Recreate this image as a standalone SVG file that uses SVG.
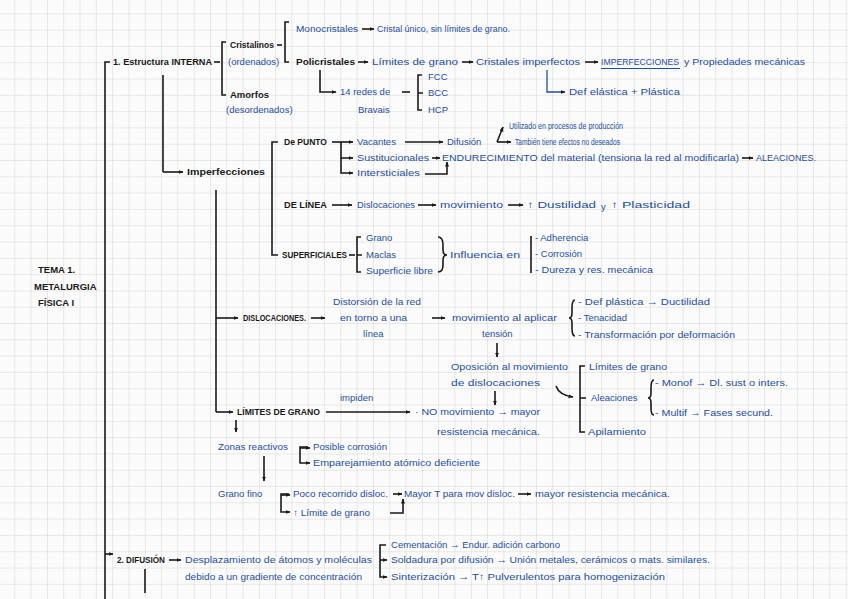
<svg xmlns="http://www.w3.org/2000/svg" width="848" height="599" viewBox="0 0 848 599">
<defs>
<pattern id="grid" width="16.3" height="16.3" patternUnits="userSpaceOnUse" x="-1" y="-2">
<path d="M16.3,0 V16.3 M0,16.3 H16.3" fill="none" stroke="#d4d4d4" stroke-width="1"/>
</pattern>
<marker id="ah" viewBox="0 0 10 10" refX="9" refY="5" markerWidth="5" markerHeight="5" orient="auto-start-reverse" markerUnits="userSpaceOnUse">
<path d="M0,1 L10,5 L0,9 z" fill="#1a1a1a"/>
</marker>
</defs>
<style>
text{font-family:"Liberation Sans","DejaVu Sans",sans-serif;font-size:9.5px}
.k{fill:#1a1a1a;font-weight:bold}
.b{fill:#1f4f9f}
.s{font-size:8.5px}
.ck{fill:none;stroke:#1a1a1a;stroke-width:1.6}
.cb{fill:none;stroke:#1f4f9f;stroke-width:1.3}
.a{marker-end:url(#ah)}
</style>
<rect width="848" height="599" fill="#fbfbfb"/>
<rect width="848" height="599" fill="url(#grid)"/>

<g id="connectors">
<path class="ck" d="M110,62 H105 V599"/>
<path class="ck" d="M214,62 H220"/>
<path class="ck" d="M226,42 H222 V95 H226"/>
<path class="ck" d="M277,45 H282"/>
<path class="ck" d="M289,22 H285 V62 H289"/>
<path class="ck a" d="M362,29 H374"/>
<path class="ck a" d="M358,62 H368"/>
<path class="ck a" d="M462,62 H473"/>
<path class="ck a" d="M585,62 H598"/>
<path class="ck a" d="M320,70 V92 H336"/>
<path class="ck" d="M402,92 H410"/>
<path class="ck" d="M422,75 H418 V110 H422 M418,93 H423"/>
<path class="cb a" d="M547,70 V92 H565"/>
<path class="ck" d="M163,75 V172"/>
<path class="ck a" d="M163,172 H183"/>
<path class="ck" d="M216,190 V412"/>
<path class="ck a" d="M216,318 H238"/>
<path class="ck a" d="M216,412 H233"/>
<path class="ck" d="M278,142 H272 V255 H278"/>
<path class="ck a" d="M332,142 H353"/>
<path class="ck a" d="M341,142 V158 H353"/>
<path class="ck a" d="M341,158 V173 H353"/>
<path class="ck a" d="M405,142 H443"/>
<path class="ck a" d="M497,142 L503,127"/>
<path class="ck a" d="M497,142 H511"/>
<path class="ck a" d="M432,158 H440"/>
<path class="ck a" d="M742,158 H753"/>
<path class="ck a" d="M425,174 H447 V162"/>
<path class="ck a" d="M332,205 H352"/>
<path class="ck a" d="M418,205 H436"/>
<path class="ck a" d="M508,205 H523"/>
<path class="ck" d="M349,255 H355"/>
<path class="ck" d="M361,237 H357 V272 H361 M357,255 H362"/>
<path class="ck" d="M438,237 Q443,237 443,245 V250 Q443,255 447,255 Q443,255 443,260 V265 Q443,272 438,272"/>
<path class="ck" d="M531,236 V273"/>
<path class="ck a" d="M311,318 H325"/>
<path class="ck a" d="M432,318 H445"/>
<path class="ck" d="M575,300 Q572,300 572,308 V313 Q572,318 569,318 Q572,318 572,323 V328 Q572,336 575,336"/>
<path class="ck a" d="M497,343 V357"/>
<path class="ck a" d="M495,391 V405"/>
<path class="ck a" d="M556,386 Q559,395 573,397"/>
<path class="ck" d="M585,366 H580 V432 H585 M580,398 H586"/>
<path class="ck" d="M654,380 Q651,380 651,388 V393 Q651,398 648,398 Q651,398 651,403 V408 Q651,415 654,415"/>
<path class="ck a" d="M326,412 H410"/>
<path class="ck a" d="M236,420 V432"/>
<path class="ck a" d="M308,447 H300 V463 H310"/>
<path class="ck a" d="M300,448 H310"/>
<path class="ck a" d="M264,456 V481"/>
<path class="ck a" d="M289,494 H281 V512 H290"/>
<path class="ck a" d="M281,495 H290"/>
<path class="ck a" d="M393,494 H402"/>
<path class="ck a" d="M518,494 H531"/>
<path class="ck a" d="M390,513 H403 V499"/>
<path class="ck a" d="M105,554 H113"/>
<path class="ck a" d="M169,560 H181"/>
<path class="ck" d="M145,569 V593"/>
<path class="ck a" d="M386,545 H380 V577 H387"/>
<path class="ck a" d="M380,560 H387"/>
</g>

<g id="tema"><text class="k" x="38" y="273">TEMA 1.</text><text class="k" x="34" y="290">METALURGIA</text><text class="k" x="38" y="306">FÍSICA I</text></g>
<g id="estructura"><text class="k" x="113" y="65" textLength="99" lengthAdjust="spacingAndGlyphs">1. Estructura INTERNA</text></g>
<g id="cristalinos"><text class="k" x="230" y="48" textLength="44" lengthAdjust="spacingAndGlyphs">Cristalinos</text><text class="b" x="228" y="65">(ordenados)</text></g>
<g id="amorfos"><text class="k" x="230" y="98">Amorfos</text><text class="b" x="226" y="113">(desordenados)</text></g>
<g id="monocristales"><text class="b s" x="296" y="32" textLength="62" lengthAdjust="spacingAndGlyphs">Monocristales</text><text class="b s" x="377" y="32" textLength="133" lengthAdjust="spacingAndGlyphs">Cristal único, sin límites de grano.</text></g>
<g id="policristales"><text class="k" x="296" y="65" textLength="59" lengthAdjust="spacingAndGlyphs">Policristales</text>
<text class="b" x="372" y="65" textLength="86" lengthAdjust="spacingAndGlyphs">Límites de grano</text>
<text class="b" x="476" y="65" textLength="104" lengthAdjust="spacingAndGlyphs">Cristales imperfectos</text>
<text class="b" x="601" y="65" textLength="78" lengthAdjust="spacingAndGlyphs">IMPERFECCIONES</text>
<path d="M601,68.5 H680" stroke="#1f4f9f" stroke-width="1"/>
<text class="b" x="684" y="65" textLength="121" lengthAdjust="spacingAndGlyphs">y Propiedades mecánicas</text></g>
<g id="redes"><text class="b" x="340" y="95">14 redes de</text><text class="b" x="358" y="113">Bravais</text></g>
<g id="fcc"><text class="b" x="428" y="80">FCC</text><text class="b" x="428" y="96">BCC</text><text class="b" x="428" y="113">HCP</text></g>
<g id="def-elastica"><text class="b" x="569" y="95" textLength="111" lengthAdjust="spacingAndGlyphs">Def elástica + Plástica</text></g>
<g id="imperfecciones"><text class="k" x="187" y="175" textLength="78" lengthAdjust="spacingAndGlyphs">Imperfecciones</text></g>
<g id="de-punto"><text class="k" x="284" y="145" textLength="43" lengthAdjust="spacingAndGlyphs">De PUNTO</text></g>
<g id="vacantes"><text class="b" x="357" y="145">Vacantes</text></g>
<g id="difusion1"><text class="b" x="447" y="145">Difusión</text></g>
<g id="utilizado"><text class="b s" x="509" y="129" textLength="114" lengthAdjust="spacingAndGlyphs">Utilizado en procesos de producción</text><text class="b s" x="515" y="145" textLength="105" lengthAdjust="spacingAndGlyphs">También tiene efectos no deseados</text></g>
<g id="sustitucionales"><text class="b" x="357" y="161" textLength="72" lengthAdjust="spacingAndGlyphs">Sustitucionales</text></g>
<g id="endurecimiento"><text class="b" x="442" y="161" textLength="297" lengthAdjust="spacingAndGlyphs">ENDURECIMIENTO del material (tensiona la red al modificarla)</text><text class="b" x="756" y="161" textLength="60" lengthAdjust="spacingAndGlyphs">ALEACIONES.</text></g>
<g id="intersticiales"><text class="b" x="357" y="176" textLength="63" lengthAdjust="spacingAndGlyphs">Intersticiales</text></g>
<g id="de-linea"><text class="k" x="284" y="208" textLength="43" lengthAdjust="spacingAndGlyphs">DE LÍNEA</text><text class="b" x="357" y="208" textLength="58" lengthAdjust="spacingAndGlyphs">Dislocaciones</text><text class="b" x="440" y="208" textLength="63" lengthAdjust="spacingAndGlyphs">movimiento</text><text class="b" x="527" y="208" textLength="69" lengthAdjust="spacingAndGlyphs">↑ Dustilidad</text><text class="b" x="601" y="210">y</text><text class="b" x="611" y="208" textLength="79" lengthAdjust="spacingAndGlyphs">↑ Plasticidad</text></g>
<g id="superficiales"><text class="k" x="282" y="258" textLength="65" lengthAdjust="spacingAndGlyphs">SUPERFICIALES</text></g>
<g id="grano-maclas"><text class="b" x="366" y="241">Grano</text><text class="b" x="366" y="258">Maclas</text><text class="b" x="366" y="274" textLength="67" lengthAdjust="spacingAndGlyphs">Superficie libre</text></g>
<g id="influencia"><text class="b" x="450" y="258" textLength="70" lengthAdjust="spacingAndGlyphs">Influencia en</text></g>
<g id="adherencia"><text class="b" x="535" y="241">- Adherencia</text><text class="b" x="535" y="257">- Corrosión</text><text class="b" x="535" y="273" textLength="118" lengthAdjust="spacingAndGlyphs">- Dureza y res. mecánica</text></g>
<g id="dislocaciones"><text class="k" x="243" y="321" textLength="63" lengthAdjust="spacingAndGlyphs">DISLOCACIONES.</text></g>
<g id="distorsion"><text class="b" x="333" y="305" textLength="88" lengthAdjust="spacingAndGlyphs">Distorsión de la red</text><text class="b" x="340" y="321" textLength="67" lengthAdjust="spacingAndGlyphs">en torno a una</text><text class="b" x="363" y="337">línea</text></g>
<g id="mov-tension"><text class="b" x="452" y="321" textLength="105" lengthAdjust="spacingAndGlyphs">movimiento al aplicar</text><text class="b" x="482" y="337">tensión</text></g>
<g id="def-plastica"><text class="b" x="578" y="305" textLength="132" lengthAdjust="spacingAndGlyphs">- Def plástica → Ductilidad</text><text class="b" x="578" y="321">- Tenacidad</text><text class="b" x="578" y="338" textLength="157" lengthAdjust="spacingAndGlyphs">- Transformación por deformación</text></g>
<g id="oposicion"><text class="b" x="451" y="370" textLength="117" lengthAdjust="spacingAndGlyphs">Oposición al movimiento</text><text class="b" x="451" y="386" textLength="89" lengthAdjust="spacingAndGlyphs">de dislocaciones</text></g>
<g id="limites-aleaciones"><text class="b" x="589" y="370" textLength="78" lengthAdjust="spacingAndGlyphs">Límites de grano</text><text class="b" x="591" y="401">Aleaciones</text><text class="b" x="588" y="435" textLength="58" lengthAdjust="spacingAndGlyphs">Apilamiento</text></g>
<g id="monof"><text class="b" x="655" y="386" textLength="133" lengthAdjust="spacingAndGlyphs">- Monof → Dl. sust o inters.</text><text class="b" x="655" y="416" textLength="118" lengthAdjust="spacingAndGlyphs">- Multif → Fases secund.</text></g>
<g id="limites-grano"><text class="k" x="237" y="415" textLength="83" lengthAdjust="spacingAndGlyphs">LÍMITES DE GRANO</text><text class="b" x="340" y="401">impiden</text></g>
<g id="no-movimiento"><text class="b" x="415" y="415" textLength="125" lengthAdjust="spacingAndGlyphs">· NO movimiento → mayor</text><text class="b" x="437" y="435" textLength="103" lengthAdjust="spacingAndGlyphs">resistencia mecánica.</text></g>
<g id="zonas"><text class="b" x="218" y="450" textLength="70" lengthAdjust="spacingAndGlyphs">Zonas reactivos</text><text class="b" x="313" y="450" textLength="74" lengthAdjust="spacingAndGlyphs">Posible corrosión</text><text class="b" x="313" y="466" textLength="167" lengthAdjust="spacingAndGlyphs">Emparejamiento atómico deficiente</text></g>
<g id="grano-fino"><text class="b" x="218" y="497">Grano fino</text><text class="b" x="293" y="497" textLength="95" lengthAdjust="spacingAndGlyphs">Poco recorrido disloc.</text><text class="b" x="293" y="516" textLength="77" lengthAdjust="spacingAndGlyphs">↑ Límite de grano</text><text class="b" x="404" y="497" textLength="111" lengthAdjust="spacingAndGlyphs">Mayor T para mov disloc.</text><text class="b" x="535" y="497" textLength="135" lengthAdjust="spacingAndGlyphs">mayor resistencia mecánica.</text></g>
<g id="difusion"><text class="k" x="117" y="563" textLength="48" lengthAdjust="spacingAndGlyphs">2. DIFUSIÓN</text><text class="b" x="185" y="563" textLength="187" lengthAdjust="spacingAndGlyphs">Desplazamiento de átomos y moléculas</text><text class="b" x="185" y="580" textLength="177" lengthAdjust="spacingAndGlyphs">debido a un gradiente de concentración</text></g>
<g id="aplicaciones"><text class="b" x="391" y="548" textLength="169" lengthAdjust="spacingAndGlyphs">Cementación → Endur. adición carbono</text><text class="b" x="391" y="563" textLength="319" lengthAdjust="spacingAndGlyphs">Soldadura por difusión → Unión metales, cerámicos o mats. similares.</text><text class="b" x="391" y="580" textLength="274" lengthAdjust="spacingAndGlyphs">Sinterización → T↑ Pulverulentos para homogenización</text></g>
</svg>
